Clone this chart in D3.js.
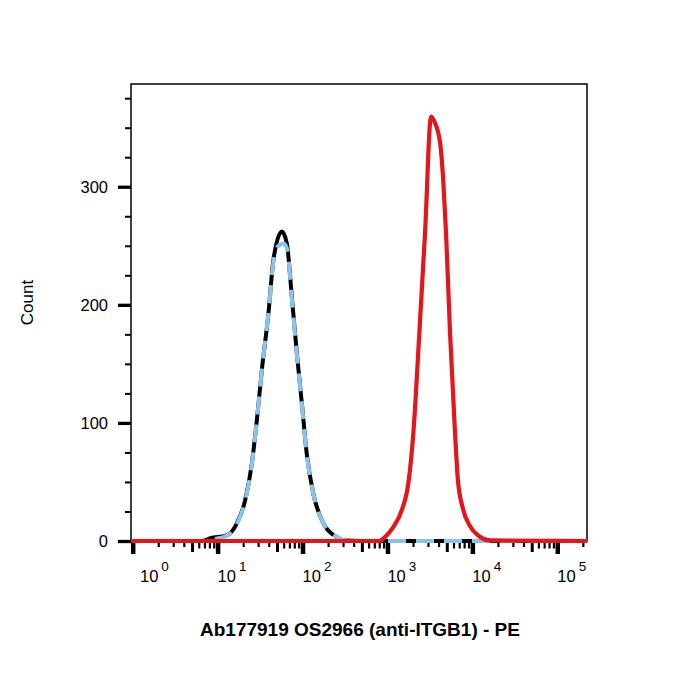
<!DOCTYPE html>
<html>
<head>
<meta charset="utf-8">
<script src="https://cdn.jsdelivr.net/npm/d3@7"></script>
<style>
  body { margin: 0; background: #fff; }
  text { font-family: "Liberation Sans", Arial, sans-serif; fill: #000; }
</style>
</head>
<body>
<div id="chart"></div>
<script>
// histogram traces (x = PE intensity, y = count)
const controlX = [0.96, 6.5, 8.2, 12.8, 16.8, 21.1, 25.3, 29.0, 33.2, 39.7, 45.4, 57, 65.3, 74.8, 85.7, 98.1, 112, 134, 176, 253, 303, 500, 223000];
const controlCount = [0, 0, 2.3, 4.8, 14.8, 34.5, 65.7, 102.5, 144.9, 193, 238, 262, 252, 207, 159, 117, 74, 40, 15, 3.4, 0.6, 0, 0];

const isotypeX = [0.96, 7, 9, 12.8, 16.8, 21.1, 25.3, 29, 33.2, 39.7, 45.4, 52, 60, 66, 74.8, 85.7, 98.1, 112, 134, 176, 253, 320, 500, 223000];
const isotypeCount = [0, 0, 1.5, 4.5, 14, 34, 65, 102, 145, 193, 236, 250, 252, 247, 205, 158, 116, 74, 40, 15, 3.6, 0.5, 0, 0];

const stainedX = [0.96, 800, 930, 1175, 1475, 1763, 2019, 2375, 2773, 3261, 3580, 4165, 4553, 4896, 5458, 6252, 6750, 7700, 9300, 12000, 16000, 223000];
const stainedCount = [0, 0, 3, 11.9, 26.1, 49, 91.4, 176.3, 261.2, 359.4, 355, 337.4, 303.7, 261.2, 176.3, 91.4, 52, 28, 13, 4, 0.5, 0];

const xDecades = [1, 10, 100, 1000, 10000, 100000];
const yMajorTicks = [0, 100, 200, 300];
const yMinorTicks = [25, 50, 75, 125, 150, 175, 225, 250, 275, 325, 350, 375];

const xTitle = "Ab177919 OS2966 (anti-ITGB1) - PE";
const yTitle = "Count";

const theme = {
  control: "#000000",
  isotype: "#8cc3ec",
  stained: "#e2161c",
};

const width = 700;
const height = 700;
const margin = { left: 131, right: 113, top: 84, bottom: 159 };

const svg = d3
  .select("#chart")
  .append("svg")
  .attr("width", width)
  .attr("height", height);

const x = d3
  .scaleLog()
  .domain([Math.pow(10, -0.02), Math.pow(10, 5.35)])
  .range([margin.left, width - margin.right]);

const y = d3
  .scaleLinear()
  .domain([0, 387])
  .range([height - margin.bottom, margin.top]);

const bottom = height - margin.bottom;

// y axis: major + minor ticks
const yMajor = svg
  .append("g")
  .attr("transform", `translate(${margin.left}, 0)`)
  .call(d3.axisLeft(y).tickValues(yMajorTicks).tickSize(13).tickPadding(10));
yMajor.select(".domain").remove();
yMajor.selectAll("line").attr("stroke-width", 3.3);
yMajor.selectAll("text").style("font-size", "16.5px");

const yMinor = svg
  .append("g")
  .attr("transform", `translate(${margin.left}, 0)`)
  .call(d3.axisLeft(y).tickValues(yMinorTicks).tickSize(6).tickFormat(""));
yMinor.select(".domain").remove();
yMinor.selectAll("line").attr("stroke-width", 2);

// x axis: log ticks, decades long, fives medium, rest short
const xTicks = x.ticks();
const lead = (d) => Math.round(d / Math.pow(10, Math.floor(Math.log10(d) + 1e-9)));
const xAxisG = svg
  .append("g")
  .attr("transform", `translate(0, ${bottom})`)
  .call(d3.axisBottom(x).tickValues(xTicks).tickFormat(""));
xAxisG.select(".domain").remove();
xAxisG
  .selectAll(".tick line")
  .attr("y2", (d) => (lead(d) === 1 ? 13 : lead(d) === 5 ? 11 : lead(d) > 5 ? 7.5 : 6))
  .attr("stroke-width", (d) => (lead(d) === 1 ? 4.5 : lead(d) === 5 ? 3 : 2.2));

// decade labels 10^n
const xLabels = svg
  .append("g")
  .selectAll("text")
  .data(xDecades)
  .enter()
  .append("text")
  .attr("x", (d) => Math.max(x(d), margin.left + 9))
  .attr("y", bottom + 41)
  .style("font-size", "16.5px");
xLabels.append("tspan").text("10");
xLabels
  .append("tspan")
  .attr("dx", 3)
  .attr("dy", -11)
  .style("font-size", "13.5px")
  .text((d) => Math.round(Math.log10(d)));

// frame
svg
  .append("rect")
  .attr("x", margin.left)
  .attr("y", margin.top)
  .attr("width", width - margin.left - margin.right)
  .attr("height", bottom - margin.top)
  .attr("fill", "none")
  .attr("stroke", "#000")
  .attr("stroke-width", 1.5);

svg
  .append("clipPath")
  .attr("id", "plot-clip")
  .append("rect")
  .attr("x", margin.left)
  .attr("y", margin.top)
  .attr("width", width - margin.left - margin.right)
  .attr("height", bottom - margin.top + 3);

const line = d3
  .line()
  .x((d) => x(d[0]))
  .y((d) => y(d[1]))
  .curve(d3.curveMonotoneX);

const plot = svg.append("g").attr("clip-path", "url(#plot-clip)");

plot
  .append("path")
  .datum(d3.zip(controlX, controlCount))
  .attr("d", line)
  .attr("fill", "none")
  .attr("stroke", theme.control)
  .attr("stroke-width", 4)
  .attr("stroke-linejoin", "round");

plot
  .append("path")
  .datum(d3.zip(isotypeX, isotypeCount))
  .attr("d", line)
  .attr("fill", "none")
  .attr("stroke", theme.isotype)
  .attr("stroke-width", 4)
  .attr("stroke-dasharray", "18,10");

plot
  .append("path")
  .datum(d3.zip(stainedX, stainedCount))
  .attr("d", line)
  .attr("fill", "none")
  .attr("stroke", theme.stained)
  .attr("stroke-width", 4.2)
  .attr("stroke-linejoin", "round");

// titles
svg
  .append("text")
  .attr("x", (margin.left + width - margin.right) / 2 + 1)
  .attr("y", 636)
  .attr("text-anchor", "middle")
  .style("font-size", "19px")
  .style("font-weight", "bold")
  .text(xTitle);

svg
  .append("text")
  .attr("transform", `translate(33, ${(margin.top + bottom) / 2 - 10}) rotate(-90)`)
  .attr("text-anchor", "middle")
  .style("font-size", "17px")
  .text(yTitle);
</script>
</body>
</html>
